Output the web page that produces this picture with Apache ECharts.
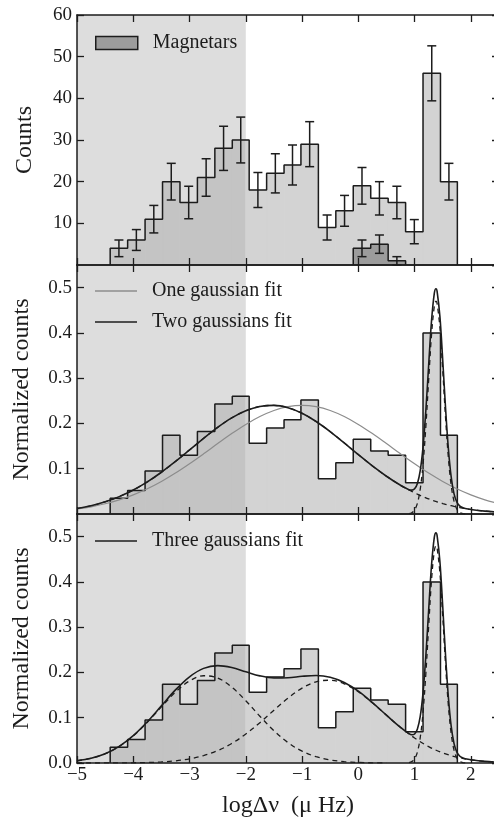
<!DOCTYPE html>
<html><head><meta charset="utf-8">
<script src="https://cdn.jsdelivr.net/npm/echarts@6/dist/echarts.min.js"></script>
<style>html,body{margin:0;padding:0;background:#fff}#c{width:494px;height:823px}</style>
</head><body><div id="c"></div>
<script>
// ---------- data ----------
const binEdges = [-4.41, -4.10, -3.79, -3.48, -3.17, -2.86, -2.55, -2.24, -1.94, -1.63, -1.32, -1.02, -0.71, -0.40, -0.09, 0.22, 0.53, 0.84, 1.15, 1.46, 1.76];
const counts   = [4, 6, 11, 20, 15, 21, 28, 30, 18, 22, 24, 29, 9, 13, 19, 16, 15, 8, 46, 20];
const countErr = [2, 2.5, 3.3, 4.4, 3.9, 4.5, 5.3, 5.5, 4.2, 4.7, 4.8, 5.4, 3, 3.7, 4.4, 4, 3.9, 2.9, 6.6, 4.4];
const magEdges  = [-0.09, 0.22, 0.53, 0.84];
const magCounts = [4, 5, 1];
const magErr    = [2, 2.2, 1];
const normCounts = [0.035, 0.052, 0.095, 0.174, 0.130, 0.182, 0.243, 0.260, 0.156, 0.190, 0.208, 0.252, 0.078, 0.113, 0.165, 0.139, 0.130, 0.069, 0.400, 0.174];

// one-gaussian fit, coarse grid
const oneX = [-5, -4.75, -4.5, -4.25, -4, -3.75, -3.5, -3.25, -3, -2.75, -2.5, -2.25, -2, -1.75, -1.5, -1.25, -1, -0.75, -0.5, -0.25, 0, 0.25, 0.5, 0.75, 1, 1.25, 1.5, 1.75, 2, 2.25, 2.5];
const oneFit = [0.0110, 0.0159, 0.0226, 0.0313, 0.0423, 0.0558, 0.0719, 0.0904, 0.1110, 0.1329, 0.1555, 0.1776, 0.1979, 0.2153, 0.2287, 0.2371, 0.2400, 0.2371, 0.2287, 0.2153, 0.1979, 0.1776, 0.1555, 0.1329, 0.1110, 0.0904, 0.0719, 0.0558, 0.0423, 0.0313, 0.0226];

// fine grid for sums (denser around the narrow peak)
const fitX = [-5, -4.75, -4.5, -4.25, -4, -3.75, -3.5, -3.25, -3, -2.75, -2.5, -2.25, -2, -1.75, -1.5, -1.25, -1, -0.75, -0.5, -0.25, 0, 0.25, 0.5, 0.75,
  0.9, 0.95, 1.0, 1.05, 1.1, 1.15, 1.2, 1.25, 1.3, 1.35, 1.38, 1.4, 1.45, 1.5, 1.55, 1.6, 1.65, 1.7, 1.75, 1.8, 1.85, 1.9, 2, 2.25, 2.5];
const twoSum = [0.0120, 0.0183, 0.0269, 0.0384, 0.0530, 0.0710, 0.0922, 0.1160, 0.1414, 0.1671, 0.1913, 0.2122, 0.2281, 0.2376, 0.2399, 0.2346, 0.2224, 0.2043, 0.1819, 0.1569, 0.1312, 0.1062, 0.0834, 0.0634,
  0.0538, 0.0527, 0.0557, 0.0675, 0.0957, 0.1485, 0.2290, 0.3290, 0.4254, 0.4874, 0.4977, 0.4917, 0.4359, 0.3397, 0.2341, 0.1444, 0.0819, 0.0451, 0.0265, 0.0180, 0.0142, 0.0123, 0.0101, 0.0064, 0.0039];
const twoBroad = [0.0120, 0.0183, 0.0269, 0.0384, 0.0530, 0.0710, 0.0922, 0.1160, 0.1414, 0.1671, 0.1913, 0.2122, 0.2281, 0.2376, 0.2399, 0.2346, 0.2224, 0.2043, 0.1819, 0.1569, 0.1312, 0.1062, 0.0834, 0.0634,
  0.0530, 0.0498, 0.0468, 0.0438, 0.0410, 0.0384, 0.0358, 0.0334, 0.0311, 0.0289, 0.0277, 0.0269, 0.0250, 0.0231, 0.0214, 0.0198, 0.0183, 0.0168, 0.0155, 0.0143, 0.0131, 0.0120, 0.0101, 0.0064, 0.0039];
const peakX = [0.9, 0.95, 1.0, 1.05, 1.1, 1.15, 1.2, 1.25, 1.3, 1.35, 1.38, 1.4, 1.45, 1.5, 1.55, 1.6, 1.65, 1.7, 1.75, 1.8, 1.85, 1.9];
const twoNarrow = [0.0008, 0.0029, 0.0089, 0.0237, 0.0547, 0.1101, 0.1932, 0.2956, 0.3943, 0.4585, 0.4700, 0.4648, 0.4109, 0.3166, 0.2127, 0.1246, 0.0636, 0.0283, 0.0110, 0.0037, 0.0011, 0.0003];

const threeSum = [0.0050, 0.0105, 0.0205, 0.0368, 0.0604, 0.0911, 0.1263, 0.1614, 0.1904, 0.2090, 0.2151, 0.2108, 0.2015, 0.1925, 0.1879, 0.1883, 0.1915, 0.1933, 0.1896, 0.1779, 0.1586, 0.1333, 0.1056, 0.0786,
  0.0648, 0.0624, 0.0642, 0.0751, 0.1028, 0.1555, 0.2369, 0.3381, 0.4358, 0.4984, 0.5084, 0.5020, 0.4445, 0.3457, 0.2374, 0.1455, 0.0813, 0.0435, 0.0242, 0.0154, 0.0114, 0.0094, 0.0071, 0.0036, 0.0017];
const threeA = [0.0050, 0.0105, 0.0204, 0.0366, 0.0599, 0.0900, 0.1239, 0.1566, 0.1813, 0.1927, 0.1878, 0.1677, 0.1375, 0.1034, 0.0713, 0.0451, 0.0261, 0.0139, 0.0068, 0.0030, 0.0013, 0.0004, 0.0001];
const threeB = [0.0000, 0.0000, 0.0001, 0.0002, 0.0005, 0.0011, 0.0024, 0.0048, 0.0091, 0.0163, 0.0273, 0.0431, 0.0640, 0.0891, 0.1166, 0.1432, 0.1654, 0.1794, 0.1828, 0.1749, 0.1573, 0.1329, 0.1055, 0.0786, 0.0551, 0.0362, 0.0224, 0.0130, 0.0071, 0.0036, 0.0017];
const threeC = [0.0008, 0.0030, 0.0091, 0.0242, 0.0559, 0.1124, 0.1973, 0.3019, 0.4027, 0.4683, 0.4800, 0.4747, 0.4197, 0.3233, 0.2172, 0.1273, 0.0650, 0.0289, 0.0112, 0.0038, 0.0011, 0.0003];

// ---------- styling ----------
const INK = '#1c1c1c', SHADE = '#dddddd', LIGHT = '#d3d3d3', DARK = '#c4c4c4', MAG = '#9c9c9c', GREY = '#8c8c8c';
const FONT = '"Liberation Serif","Times New Roman",serif';
const SHADE_TO = -2, XMIN = -5, XMAX = 2.5;

const zip = (xs, ys) => ys.map((y, i) => [xs[i], y]);
function outline(edges, vals) {
  const pts = [[edges[0], 0]];
  vals.forEach((v, i) => { pts.push([edges[i], v]); pts.push([edges[i + 1], v]); });
  pts.push([edges[vals.length], 0]);
  return pts;
}
const binData = (edges, vals) => vals.map((v, i) => [edges[i], edges[i + 1], v]);
const errData = (edges, vals, errs) => vals.map((v, i) => [(edges[i] + edges[i + 1]) / 2, Math.max(0, v - errs[i]), v + errs[i]]);

function shadeRender(ymax) {
  return function (params, api) {
    const p0 = api.coord([XMIN, ymax]), p1 = api.coord([SHADE_TO, 0]);
    return { type: 'rect', shape: { x: p0[0], y: p0[1], width: p1[0] - p0[0], height: p1[1] - p0[1] }, style: { fill: SHADE } };
  };
}
function histRender(params, api) {
  const a = api.coord([api.value(0), api.value(2)]), b = api.coord([api.value(1), 0]);
  const split = api.coord([SHADE_TO, 0])[0];
  const ch = [];
  if (a[0] < split) ch.push({ type: 'rect', shape: { x: a[0], y: a[1], width: Math.min(b[0], split) - a[0], height: b[1] - a[1] }, style: { fill: DARK, stroke: DARK, lineWidth: 1 } });
  if (b[0] > split) { const l = Math.max(a[0], split); ch.push({ type: 'rect', shape: { x: l, y: a[1], width: b[0] - l, height: b[1] - a[1] }, style: { fill: LIGHT, stroke: LIGHT, lineWidth: 1 } }); }
  return { type: 'group', children: ch };
}
function magRender(params, api) {
  const a = api.coord([api.value(0), api.value(2)]), b = api.coord([api.value(1), 0]);
  return { type: 'rect', shape: { x: a[0], y: a[1], width: b[0] - a[0], height: b[1] - a[1] }, style: { fill: MAG, stroke: MAG, lineWidth: 1 } };
}
function errRender(params, api) {
  const x = api.value(0);
  const a = api.coord([x, api.value(1)]), b = api.coord([x, api.value(2)]);
  const w = 4.5, st = { stroke: INK, lineWidth: 1.5 };
  return { type: 'group', children: [
    { type: 'line', shape: { x1: a[0], y1: a[1], x2: b[0], y2: b[1] }, style: st },
    { type: 'line', shape: { x1: a[0] - w, y1: a[1], x2: a[0] + w, y2: a[1] }, style: st },
    { type: 'line', shape: { x1: b[0] - w, y1: b[1], x2: b[0] + w, y2: b[1] }, style: st }
  ] };
}

const axisLine = { show: true, onZero: false, lineStyle: { color: INK, width: 1.5 } };
const axisTick = { show: true, inside: true, length: 7, lineStyle: { color: INK, width: 1.3 } };
const labelStyle = { fontFamily: FONT, fontSize: 19, color: INK };
const fmtX = v => (v < 0 ? '\u2212' + Math.abs(v) : String(v));

const grids = [
  { left: 77, top: 15, width: 422, height: 250, outerBoundsMode: 'none' },
  { left: 77, top: 265, width: 422, height: 249, outerBoundsMode: 'none' },
  { left: 77, top: 514, width: 422, height: 249, outerBoundsMode: 'none' }
];
const xAxes = [], yAxes = [];
for (let g = 0; g < 3; g++) {
  xAxes.push({ type: 'value', gridIndex: g, min: XMIN, max: XMAX, interval: 1, z: 10, axisLine, axisTick, splitLine: { show: false },
    axisLabel: g === 2 ? { ...labelStyle, margin: 3, formatter: fmtX, showMaxLabel: false } : { show: false },
    name: g === 2 ? 'log\u0394\u03bd  (\u03bc Hz)' : '', nameLocation: 'middle', nameGap: 31,
    nameTextStyle: { fontFamily: FONT, fontSize: 24, color: INK } });
}
for (let g = 0; g < 3; g++) {
  xAxes.push({ type: 'value', gridIndex: g, position: 'top', min: XMIN, max: XMAX, interval: 1, z: 10, axisLine, axisTick, splitLine: { show: false }, axisLabel: { show: false } });
}
const yCfg = [
  { max: 60, interval: 10, name: 'Counts', gap: 40, fmt: v => String(v), showMin: false },
  { max: 0.55, interval: 0.1, name: 'Normalized counts', gap: 43, fmt: v => v.toFixed(1), showMin: false },
  { max: 0.55, interval: 0.1, name: 'Normalized counts', gap: 43, fmt: v => v.toFixed(1), showMin: true }
];
yCfg.forEach((c, g) => {
  yAxes.push({ type: 'value', gridIndex: g, min: 0, max: c.max, interval: c.interval, z: 10, axisLine, axisTick, splitLine: { show: false },
    axisLabel: { ...labelStyle, margin: 5, formatter: c.fmt, showMinLabel: c.showMin, showMaxLabel: g === 0 },
    name: c.name, nameLocation: 'middle', nameGap: c.gap, nameTextStyle: { fontFamily: FONT, fontSize: 24, color: INK } });
});
yCfg.forEach((c, g) => {
  yAxes.push({ type: 'value', gridIndex: g, position: 'right', min: 0, max: c.max, interval: c.interval, z: 10, axisLine, axisTick, splitLine: { show: false }, axisLabel: { show: false } });
});

const series = [];
const yMax = [60, 0.55, 0.55];
for (let g = 0; g < 3; g++) {
  series.push({ type: 'custom', xAxisIndex: g, yAxisIndex: g, z: 1, silent: true, renderItem: shadeRender(yMax[g]), data: [[XMIN, SHADE_TO, 0]], encode: { x: [0, 1], y: 2 } });
  const vals = g === 0 ? counts : normCounts;
  series.push({ type: 'custom', xAxisIndex: g, yAxisIndex: g, z: 2, silent: true, renderItem: histRender, data: binData(binEdges, vals), encode: { x: [0, 1], y: 2 } });
  series.push({ type: 'line', xAxisIndex: g, yAxisIndex: g, z: 4, silent: true, symbol: 'none', data: outline(binEdges, vals), lineStyle: { color: INK, width: 1.5 } });
}
// magnetars + error bars (top panel)
series.push({ name: 'Magnetars', type: 'custom', xAxisIndex: 0, yAxisIndex: 0, z: 3, silent: true, renderItem: magRender, data: binData(magEdges, magCounts), encode: { x: [0, 1], y: 2 }, itemStyle: { color: MAG } });
series.push({ type: 'line', xAxisIndex: 0, yAxisIndex: 0, z: 4, silent: true, symbol: 'none', data: outline(magEdges, magCounts), lineStyle: { color: INK, width: 1.5 } });
series.push({ type: 'custom', xAxisIndex: 0, yAxisIndex: 0, z: 5, silent: true, renderItem: errRender, data: errData(binEdges, counts, countErr), encode: { x: 0, y: [1, 2] } });
series.push({ type: 'custom', xAxisIndex: 0, yAxisIndex: 0, z: 5, silent: true, renderItem: errRender, data: errData(magEdges, magCounts, magErr), encode: { x: 0, y: [1, 2] } });

const curve = (name, g, xs, ys, color, width, dashed, z) => ({
  name, type: 'line', xAxisIndex: g, yAxisIndex: g, z, silent: true, symbol: 'none', smooth: 0.35,
  data: zip(xs, ys), lineStyle: { color, width, type: dashed ? [5, 4] : 'solid' }, itemStyle: { color }
});
// middle panel
series.push(curve('two-broad', 1, fitX, twoBroad, INK, 1.3, true, 6));
series.push(curve('two-narrow', 1, peakX, twoNarrow, INK, 1.3, true, 6));
series.push(curve('One gaussian fit', 1, oneX, oneFit, GREY, 1.2, false, 7));
series.push(curve('Two gaussians fit', 1, fitX, twoSum, INK, 1.6, false, 8));
// bottom panel
series.push(curve('three-A', 2, oneX, threeA, INK, 1.3, true, 6));
series.push(curve('three-B', 2, oneX, threeB, INK, 1.3, true, 6));
series.push(curve('three-C', 2, peakX, threeC, INK, 1.3, true, 6));
series.push(curve('Three gaussians fit', 2, fitX, threeSum, INK, 1.6, false, 8));

const legText = { fontFamily: FONT, fontSize: 20, color: INK, padding: [0, 0, 0, 10], lineHeight: 20 };
const legends = [
  { left: 95, top: 33, padding: 0, orient: 'vertical', selectedMode: false, itemWidth: 42, itemHeight: 13, textStyle: legText,
    data: [{ name: 'Magnetars', icon: 'rect', itemStyle: { color: MAG, borderColor: INK, borderWidth: 1.5 } }] },
  { left: 95, top: 281, padding: 0, orient: 'vertical', selectedMode: false, itemWidth: 42, itemHeight: 1.6, itemGap: 11, textStyle: legText,
    data: [{ name: 'One gaussian fit', icon: 'rect', itemStyle: { color: GREY, borderWidth: 0 } },
           { name: 'Two gaussians fit', icon: 'rect', itemStyle: { color: INK, borderWidth: 0 } }] },
  { left: 95, top: 531, padding: 0, orient: 'vertical', selectedMode: false, itemWidth: 42, itemHeight: 1.6, textStyle: legText,
    data: [{ name: 'Three gaussians fit', icon: 'rect', itemStyle: { color: INK, borderWidth: 0 } }] }
];

const chart = echarts.init(document.getElementById('c'), null, { renderer: 'canvas' });
chart.setOption({ animation: false, backgroundColor: '#fff', grid: grids, xAxis: xAxes, yAxis: yAxes, legend: legends, series });
</script></body></html>
